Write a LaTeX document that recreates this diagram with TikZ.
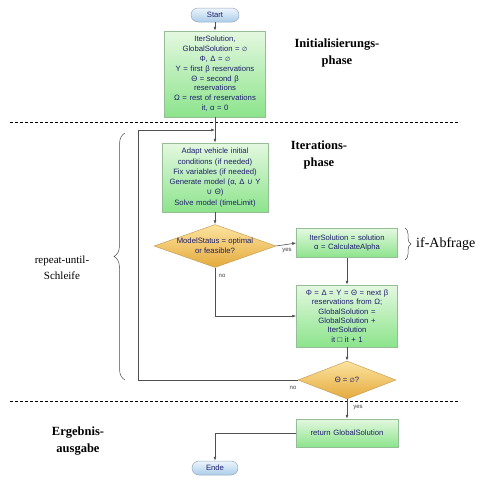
\documentclass[tikz,border=0pt]{standalone}
\usepackage{fontspec}
\setmainfont{Liberation Serif}
\newfontfamily\flowfont{Liberation Sans}
\newfontfamily\djv{DejaVu Sans}
\usetikzlibrary{shapes.geometric,arrows.meta,decorations.pathreplacing}
\definecolor{txtblue}{RGB}{30,30,110}
\definecolor{boxtop}{RGB}{228,248,224}
\definecolor{boxbot}{RGB}{140,228,140}
\definecolor{boxline}{RGB}{150,190,150}
\definecolor{dtop}{RGB}{252,228,160}
\definecolor{dbot}{RGB}{228,170,60}
\definecolor{dline}{RGB}{200,160,90}
\definecolor{ptop}{RGB}{238,245,252}
\definecolor{pbot}{RGB}{170,205,232}
\definecolor{pline}{RGB}{150,170,195}
\definecolor{conn}{RGB}{80,80,80}
\newcommand{\es}{{\djv\fontsize{6}{6}\selectfont ∅}}
\newcommand{\cupsym}{{\djv ∪}}
\tikzset{
  procbox/.style={draw=boxline, line width=0.5pt, top color=boxtop, bottom color=boxbot,
    text=txtblue, font=\flowfont\fontsize{7.7}{9.8}\selectfont, align=center, inner sep=0.5pt},
  decbox/.style={shape=diamond, draw=dline, line width=0.5pt, top color=dtop, bottom color=dbot, inner sep=0pt},
  dtext/.style={text=txtblue, font=\flowfont\fontsize{7.7}{9.8}\selectfont, align=center, inner sep=0pt},
  pill/.style={draw=pline, line width=0.5pt, rounded corners=7pt, top color=ptop, bottom color=pbot,
    text=txtblue, font=\flowfont\fontsize{7.7}{8}\selectfont, inner sep=0pt},
  arr/.style={draw=conn, line width=0.6pt, -{Latex[length=4pt,width=3pt]}},
  lbl/.style={font=\flowfont\fontsize{6}{6}\selectfont, text=black!75, inner sep=0pt},
  phase/.style={font=\bfseries\fontsize{12.5}{17.5}\selectfont, align=center, inner sep=0pt},
  side/.style={font=\fontsize{11}{16}\selectfont, align=center, inner sep=0pt},
  sep/.style={draw=black, line width=0.5pt, dash pattern=on 3pt off 2pt},
  curly/.style={draw=black!70, line width=0.5pt, decorate},
}
\begin{document}
\begin{tikzpicture}[x=1pt,y=-1pt]
\useasboundingbox (0,0) rectangle (486,490);

% separators
\coordinate (s1a) at (10,122); \coordinate (s1b) at (460,122);
\coordinate (s2a) at (10,401); \coordinate (s2b) at (460,401);
\draw[sep] (s1a) -- (s1b);
\draw[sep] (s2a) -- (s2b);

% nodes
\node[pill, minimum width=48pt, minimum height=14pt] (start) at (215,15) {Start};
\node[procbox, minimum width=101pt, minimum height=86pt, text width=100pt] (init) at (215,74)
  {IterSolution,\\GlobalSolution = \es\\Φ, Δ = \es\\Υ = first β reservations\\Θ = second β\\reservations\\Ω = rest of reservations\\it, α = 0};
\node[procbox, minimum width=106pt, minimum height=69pt, text width=105pt, font=\flowfont\fontsize{7.7}{10.3}\selectfont] (iter) at (215,177.5)
  {Adapt vehicle initial\\conditions (if needed)\\Fix variables (if needed)\\Generate model (α, Δ \cupsym{} Υ\\\cupsym{} Θ)\\Solve model (timeLimit)};
\node[decbox, minimum width=122pt, minimum height=43pt,
  label={[dtext]center:ModelStatus = optimal\\or feasible?}] (d1) at (215,246) {};
\node[procbox, minimum width=101pt, minimum height=29pt, text width=100pt] (isol) at (347,243)
  {IterSolution = solution\\α = CalculateAlpha};
\node[procbox, minimum width=101pt, minimum height=62pt, text width=100pt, font=\flowfont\fontsize{7.7}{9.4}\selectfont] (upd) at (347,316)
  {Φ = Δ = Υ = Θ = next β\\reservations from Ω;\\GlobalSolution =\\GlobalSolution +\\IterSolution\\it □ it + 1};
\node[decbox, minimum width=98pt, minimum height=38pt,
  label={[dtext]center:Θ = \es?}] (d2) at (347,380) {};
\node[procbox, minimum width=102pt, minimum height=28pt, text width=101pt] (ret) at (347,433) {return GlobalSolution};
\node[pill, minimum width=46pt, minimum height=14pt] (ende) at (215,468) {Ende};

% connectors
\coordinate (loopin) at (215,130);
\coordinate (loopL) at (138,130);
\draw[arr] (start) -- (init);
\draw[arr] (init) -- (iter);
\draw[arr] (iter) -- (d1);
\draw[arr] (d1.east) -- (isol.west);
\draw[arr] (d1.south) |- (upd.west);
\draw[arr] (isol) -- (upd);
\draw[arr] (upd) -- (d2);
\draw[arr] (d2.west) -| (loopL) -- (loopin);
\draw[arr] (d2) -- (ret);
\draw[arr] (ret.west) -| (ende.north);

% connector labels
\node[lbl] (yes1) at (287,251) {yes};
\node[lbl] (no1) at (222,276) {no};
\node[lbl] (no2) at (293,388) {no};
\node[lbl] (yes2) at (358,408) {yes};

% phase labels
\node[phase] (ph1) at (337,53) {Initialisierungs-\\phase};
\node[phase] (ph2) at (319,155) {Iterations-\\phase};
\node[phase] (ph3) at (78,441) {Ergebnis-\\ausgabe};

% braces
\coordinate (b1a) at (125,380); \coordinate (b1b) at (125,133);
\draw[curly, decoration={brace, amplitude=11pt}] (b1a) -- (b1b);
\node[side] (rep) at (62,268) {repeat-until-\\Schleife};
\coordinate (b2a) at (405,228); \coordinate (b2b) at (405,260);
\draw[curly, decoration={brace, amplitude=6pt}] (b2a) -- (b2b);
\node[side, anchor=west, font=\fontsize{14}{16}\selectfont] (ifab) at (416,244) {if-Abfrage};
\end{tikzpicture}
\end{document}
